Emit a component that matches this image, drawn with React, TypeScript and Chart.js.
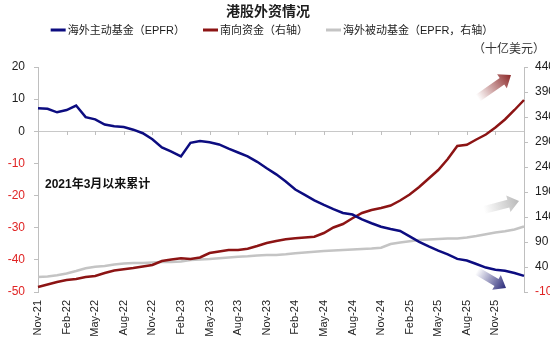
import React, { useEffect, useRef } from 'react';
import { Chart, registerables } from 'chart.js';

Chart.register(...registerables);

// ---------- data ----------
const MONTHS = [
  'Nov-21', 'Dec-21', 'Jan-22', 'Feb-22', 'Mar-22', 'Apr-22', 'May-22', 'Jun-22', 'Jul-22', 'Aug-22',
  'Sep-22', 'Oct-22', 'Nov-22', 'Dec-22', 'Jan-23', 'Feb-23', 'Mar-23', 'Apr-23', 'May-23', 'Jun-23',
  'Jul-23', 'Aug-23', 'Sep-23', 'Oct-23', 'Nov-23', 'Dec-23', 'Jan-24', 'Feb-24', 'Mar-24', 'Apr-24',
  'May-24', 'Jun-24', 'Jul-24', 'Aug-24', 'Sep-24', 'Oct-24', 'Nov-24', 'Dec-24', 'Jan-25', 'Feb-25',
  'Mar-25', 'Apr-25', 'May-25', 'Jun-25', 'Jul-25', 'Aug-25', 'Sep-25', 'Oct-25', 'Nov-25', 'Dec-25',
  'Jan-26', 'Feb-26',
];
const LAST_LABELED_MONTH = 'Nov-25';

// 海外主动基金（EPFR）, left axis
const ACTIVE_EPFR = [
  7.2, 7.0, 5.9, 6.6, 8.0, 4.4, 3.7, 2.1, 1.6, 1.3,
  0.5, -0.6, -2.5, -5.0, -6.3, -7.8, -3.6, -3.0, -3.4, -4.1,
  -5.4, -6.6, -7.8, -9.5, -11.5, -13.4, -15.6, -18.1, -19.8, -21.5,
  -22.9, -24.2, -25.4, -25.9, -27.4, -28.6, -29.7, -30.4, -31.0, -32.7,
  -34.4, -35.8, -37.1, -38.3, -39.7, -40.2, -41.3, -42.4, -43.1, -43.4,
  -44.1, -45.0,
];
// 南向资金, right axis
const SOUTHBOUND = [
  0, 5, 10, 14, 16, 20, 22, 28, 33, 35.5,
  38, 41, 44, 52, 55, 57.5, 56, 59, 68, 71,
  74, 74, 76.5, 82, 88, 92, 95.5, 97.5, 99, 100.5,
  108, 119, 126, 137.5, 148, 154, 158, 163, 173, 185,
  200, 217, 234, 256, 282, 284.5, 295, 305, 319, 335,
  354, 374,
];
// 海外被动基金（EPFR）, right axis
const PASSIVE_EPFR = [
  20, 21, 23.5, 27, 32, 37.5, 40.5, 42, 45, 47,
  48, 48, 49, 50, 50, 51, 54, 55, 56, 57.5,
  59, 60.5, 61.5, 63, 64, 64, 65.5, 67.5, 69, 70.5,
  72, 73, 74, 75, 76, 77, 78.5, 86, 89, 91.5,
  94, 95, 96, 97, 97, 99, 102, 105.5, 109, 111.5,
  115, 121,
];

const LEFT_TICKS = { min: -50, max: 20, step: 10 };
const RIGHT_TICKS = { min: -10, max: 440, step: 50 };

const TITLE = '港股外资情况';
const SERIES_NAMES = ['海外主动基金（EPFR）', '南向资金（右轴）', '海外被动基金（EPFR，右轴）'];
const UNIT_TEXT = '（十亿美元）';
const NOTE_TEXT = '2021年3月以来累计';

// ---------- styles ----------
const BLUE = '#0c0c80';
const RED = '#8c1414';
const GRAY = '#c4c4c4';
const NEG_TEXT = '#e02424';
const TEXT = '#1e1e1e';
const AXIS = '#bfbfbf';
const FONT = "'Liberation Sans', Arial, 'Noto Sans CJK SC', sans-serif";

function drawArrow(ctx: CanvasRenderingContext2D, x0: number, y0: number, x1: number, y1: number, rgb: string) {
  const dx = x1 - x0;
  const dy = y1 - y0;
  const L = Math.hypot(dx, dy);
  const ux = dx / L, uy = dy / L;
  const nx = -uy, ny = ux;
  const hl = 11, sw = 4, hw = 8.5;
  const bx = x1 - ux * hl, by = y1 - uy * hl;
  const g = ctx.createLinearGradient(x0, y0, x1, y1);
  g.addColorStop(0, `rgba(${rgb},0)`);
  g.addColorStop(0.55, `rgba(${rgb},0.55)`);
  g.addColorStop(1, `rgba(${rgb},1)`);
  ctx.beginPath();
  ctx.moveTo(x0 + nx * sw, y0 + ny * sw);
  ctx.lineTo(bx + nx * sw, by + ny * sw);
  ctx.lineTo(bx + nx * hw, by + ny * hw);
  ctx.lineTo(x1, y1);
  ctx.lineTo(bx - nx * hw, by - ny * hw);
  ctx.lineTo(bx - nx * sw, by - ny * sw);
  ctx.lineTo(x0 - nx * sw, y0 - ny * sw);
  ctx.closePath();
  ctx.fillStyle = g;
  ctx.fill();
}

const decorPlugin = {
  id: 'decor',
  beforeDatasetsDraw(chart: any) {
    const { ctx, scales } = chart;
    const xs = scales.x;
    const y0 = scales.y.getPixelForValue(0);
    const lastIdx = MONTHS.indexOf(LAST_LABELED_MONTH);
    ctx.save();
    ctx.strokeStyle = AXIS;
    ctx.lineWidth = 1;
    for (let i = 0; i <= lastIdx; i += 3) {
      const px = Math.round(xs.getPixelForValue(i)) + 0.5;
      ctx.beginPath();
      ctx.moveTo(px, Math.round(y0));
      ctx.lineTo(px, Math.round(y0) + 4);
      ctx.stroke();
    }
    ctx.restore();
  },
  afterDraw(chart: any) {
    const { ctx, chartArea } = chart;
    ctx.save();
    // title
    ctx.fillStyle = TEXT;
    ctx.textBaseline = 'middle';
    ctx.textAlign = 'center';
    ctx.font = `bold 14px ${FONT}`;
    ctx.fillText(TITLE, 268, 12);

    // legend
    ctx.font = `11px ${FONT}`;
    ctx.textAlign = 'left';
    const colors = [BLUE, RED, GRAY];
    const lineLen = 15, gapAfterLine = 2, itemGap = 18;
    const widths = SERIES_NAMES.map((t) => ctx.measureText(t).width);
    const total = widths.reduce((a, w) => a + lineLen + gapAfterLine + w, 0) + itemGap * (SERIES_NAMES.length - 1);
    let lx = 272 - total / 2;
    const ly = 30;
    SERIES_NAMES.forEach((t, i) => {
      ctx.strokeStyle = colors[i];
      ctx.lineWidth = 3;
      ctx.beginPath();
      ctx.moveTo(lx, ly);
      ctx.lineTo(lx + lineLen, ly);
      ctx.stroke();
      ctx.fillStyle = TEXT;
      ctx.fillText(t, lx + lineLen + gapAfterLine, ly + 0.5);
      lx += lineLen + gapAfterLine + widths[i] + itemGap;
    });

    // unit
    ctx.font = `12px ${FONT}`;
    ctx.fillStyle = '#333';
    ctx.fillText(UNIT_TEXT, chartArea.right - 51, 50);

    // note
    ctx.font = `bold 12px ${FONT}`;
    ctx.fillStyle = '#111';
    ctx.fillText(NOTE_TEXT, chartArea.left + 7, 185);

    // arrows
    const r = chartArea.right, t = chartArea.top;
    drawArrow(ctx, r - 46, t + 31, r - 13, t + 8, '140,40,40');
    drawArrow(ctx, r - 40, t + 143, r - 5, t + 134, '185,185,185');
    drawArrow(ctx, r - 47, t + 204, r - 18, t + 221, '40,40,120');
    ctx.restore();
  },
};

export default function App() {
  const ref = useRef<HTMLCanvasElement | null>(null);

  useEffect(() => {
    if (!ref.current) return;
    Chart.defaults.font.family = FONT;
    const lastIdx = MONTHS.indexOf(LAST_LABELED_MONTH);
    const chart = new Chart(ref.current, {
      type: 'line',
      data: {
        labels: MONTHS,
        datasets: [
          { label: SERIES_NAMES[0], data: ACTIVE_EPFR, yAxisID: 'y', borderColor: BLUE, borderWidth: 2.5, pointRadius: 0, tension: 0 },
          { label: SERIES_NAMES[1], data: SOUTHBOUND, yAxisID: 'y1', borderColor: RED, borderWidth: 2.5, pointRadius: 0, tension: 0 },
          { label: SERIES_NAMES[2], data: PASSIVE_EPFR, yAxisID: 'y1', borderColor: GRAY, borderWidth: 2.5, pointRadius: 0, tension: 0 },
        ],
      },
      options: {
        responsive: false,
        animation: false,
        devicePixelRatio: 1,
        layout: { padding: { top: 67, left: 0, right: 0, bottom: 0 } },
        plugins: { legend: { display: false }, title: { display: false }, tooltip: { enabled: false } },
        scales: {
          x: {
            type: 'category',
            offset: false,
            grid: { display: false, drawTicks: false },
            border: { display: false },
            ticks: {
              autoSkip: false,
              minRotation: 90,
              maxRotation: 90,
              padding: 8,
              color: TEXT,
              font: { size: 11 },
              callback: (_v: any, i: number) => (i % 3 === 0 && i <= lastIdx ? MONTHS[i] : ''),
            },
            afterFit: (s: any) => { s.height = 55; },
          },
          y: {
            position: 'left',
            min: LEFT_TICKS.min,
            max: LEFT_TICKS.max,
            ticks: {
              stepSize: LEFT_TICKS.step,
              padding: 9,
              font: { size: 12 },
              color: (c: any) => (c.tick && c.tick.value < 0 ? NEG_TEXT : TEXT),
            },
            grid: {
              color: (c: any) => (c.tick && c.tick.value === 0 ? '#c8c8c8' : 'rgba(0,0,0,0)'),
              tickColor: AXIS,
              tickLength: 4,
            },
            border: { display: true, color: AXIS },
            afterFit: (s: any) => { s.width = 38; },
          },
          y1: {
            position: 'right',
            min: RIGHT_TICKS.min,
            max: RIGHT_TICKS.max,
            ticks: {
              stepSize: RIGHT_TICKS.step,
              padding: 7,
              font: { size: 12 },
              color: (c: any) => (c.tick && c.tick.value < 0 ? NEG_TEXT : TEXT),
            },
            grid: { drawOnChartArea: false, tickColor: AXIS, tickLength: 4 },
            border: { display: true, color: AXIS },
            afterFit: (s: any) => { s.width = 56; },
          },
        },
      } as any,
      plugins: [decorPlugin],
    });
    return () => chart.destroy();
  }, []);

  return (
    <div style={{ position: 'fixed', left: 0, top: 0, width: 550, height: 347, overflow: 'hidden', background: '#fff' }}>
      <canvas ref={ref} width={580} height={347} style={{ display: 'block' }} />
    </div>
  );
}
